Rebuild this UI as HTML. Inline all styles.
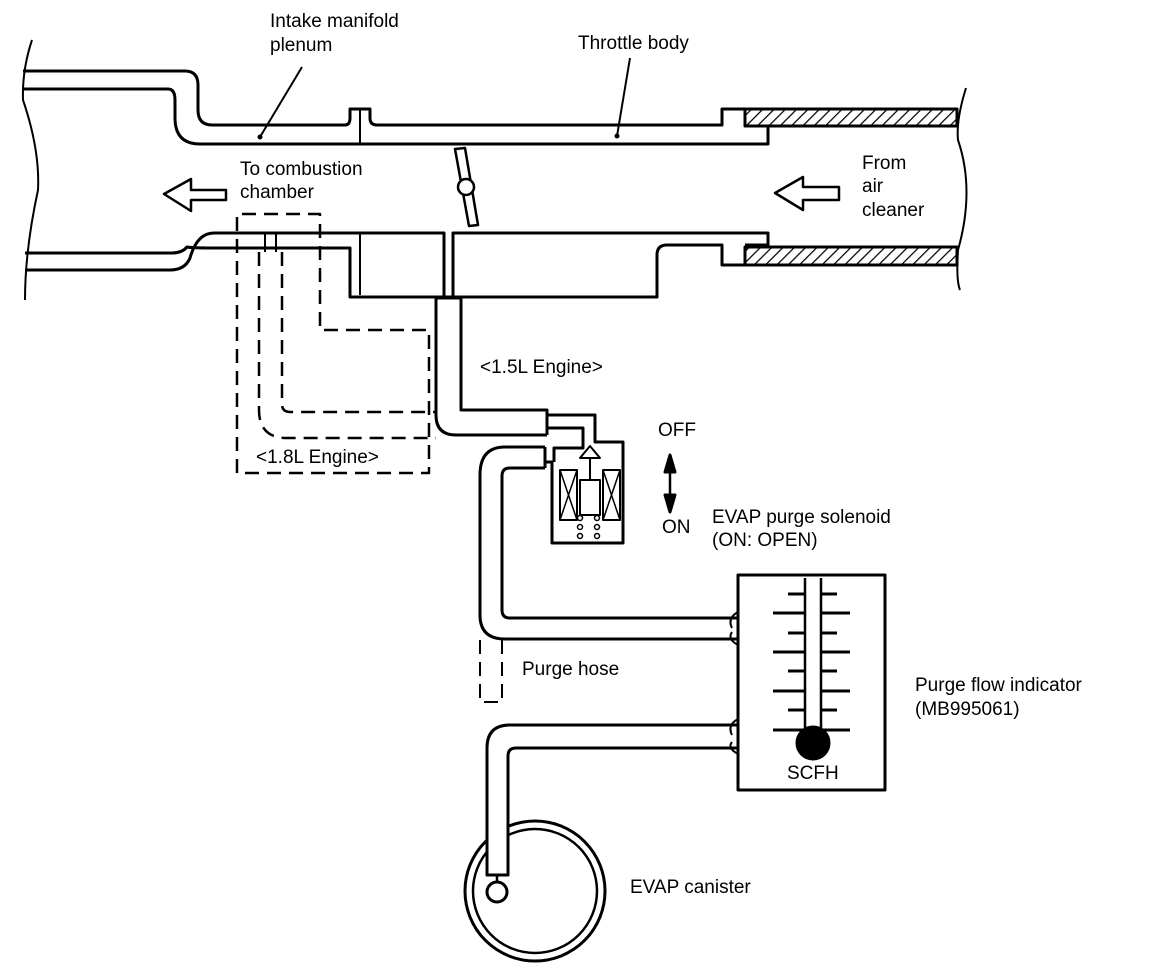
<!DOCTYPE html>
<html><head><meta charset="utf-8"><style>
body{margin:0;background:#fff}
svg{display:block}
text{font-family:"Liberation Sans",sans-serif;font-size:19px;fill:#000}
</style></head><body>
<svg width="1152" height="980" viewBox="0 0 1152 980" xmlns="http://www.w3.org/2000/svg">
<defs>
<pattern id="h" width="8" height="8" patternUnits="userSpaceOnUse" patternTransform="rotate(45)">
<line x1="0" y1="0" x2="0" y2="8" stroke="#000" stroke-width="2.5"/>
</pattern>
</defs>
<g fill="none" stroke="#000" stroke-width="3" stroke-linejoin="round">
<path d="M32 40 Q22 70 23 100 Q40 150 38 190 Q25 250 25 300" stroke-width="2"/>
<path d="M966 88 Q956 120 958 140 Q975 190 958 250 Q956 280 960 290" stroke-width="2"/>
<path d="M23 71 L185 71 Q198 71 198 85 L198 110 Q198 125 212 125 L345 125 Q350 125 350 118 L350 109 L370 109 L370 118 Q370 125 377 125 L722 125 L722 109 L745 109"/>
<path d="M23 89 L168 89 Q175 89 175 100 L175 118 Q175 144 200 144 L768 144 L768 126 L745 126"/>
<line x1="360" y1="109" x2="360" y2="144" stroke-width="2"/>
<path d="M25 270 L170 270 Q185 270 190 258 Q197 233 214 233 L444 233 L444 297"/>
<path d="M453 297 L453 233 L768 233 L768 245 L745 245"/>
<path d="M25 253 L172 253 Q182 253 187 247 Q192 248 214 248 L350 248 L350 297 L657 297 L657 255 Q657 245 667 245 L722 245 L722 265 L745 265"/>
<line x1="360" y1="233" x2="360" y2="295" stroke-width="2"/>
<rect x="745" y="109" width="212" height="17" fill="url(#h)"/>
<rect x="745" y="247" width="212" height="18" fill="url(#h)"/>
<polygon points="455,149 465,148 478,225 469,226" fill="#fff" stroke-width="2.5"/>
<circle cx="466" cy="187" r="8" fill="#fff" stroke-width="2.5"/>
<polygon points="164,194 191,179 191,190 226,190 226,200 191,200 191,211" stroke-width="2.5"/>
<polygon points="775,193 803,177 803,187 839,187 839,200 803,200 803,210" stroke-width="2.5"/>
<path d="M436 298 L461 298 M436 298 L436 415 Q436 435 456 435 L547 435 M461 298 L461 410 L547 410 L547 435"/>
<path d="M547 415 L595 415 L595 442 L623 442 L623 543 L552 543 L552 462 L545 462 M547 428 L583 428 L583 448 L554 448 L554 462"/>
<rect x="560" y="470" width="17" height="50" stroke-width="2"/>
<path d="M560 470 L577 520 M577 470 L560 520" stroke-width="1.5"/>
<rect x="603" y="470" width="17" height="50" stroke-width="2"/>
<path d="M603 470 L620 520 M620 470 L603 520" stroke-width="1.5"/>
<rect x="580" y="480" width="20" height="35" stroke-width="2"/>
<line x1="590" y1="480" x2="590" y2="458" stroke-width="2"/>
<polygon points="580,458 590,446 600,458" stroke-width="2"/>
<g stroke-width="1.5"><circle cx="580" cy="518" r="2.5"/><circle cx="597" cy="518" r="2.5"/><circle cx="580" cy="527" r="2.5"/><circle cx="597" cy="527" r="2.5"/><circle cx="580" cy="536" r="2.5"/><circle cx="597" cy="536" r="2.5"/></g>
<path d="M545 447 L505 447 Q480 447 480 475 L480 615 Q480 639 505 639 L738 639"/>
<path d="M545 468 L510 468 Q502 468 502 476 L502 610 Q502 618 510 618 L738 618"/>
<path d="M545 447 L545 468" />
<path d="M738 612 Q727 618 732 628 M738 645 Q727 639 732 632" stroke-width="2"/>
<path d="M480 640 L480 702 L502 702 L502 640" stroke-dasharray="14 8" stroke-width="2"/>
<!-- canister -->
<circle cx="535" cy="891" r="70"/>
<circle cx="535" cy="891" r="62" stroke-width="2.5"/>
<path d="M738 725 L510 725 Q487 725 487 748 L487 875 L508 875 L508 756 Q508 748 516 748 L738 748" fill="#fff"/>
<path d="M738 719 Q727 725 732 735 M738 754 Q727 748 732 742" stroke-width="2"/>
<circle cx="497" cy="892" r="10" fill="#fff"/>
<line x1="497" y1="875" x2="497" y2="882" stroke-width="2.5"/>
<rect x="738" y="575" width="147" height="215"/>
<path d="M805 578 L805 732 M821 578 L821 732" stroke-width="2.5"/>
<g stroke-width="3">
<path d="M788 594 L805 594 M821 594 L837 594"/>
<path d="M773 613 L805 613 M821 613 L850 613"/>
<path d="M788 633 L805 633 M821 633 L837 633"/>
<path d="M773 652 L805 652 M821 652 L850 652"/>
<path d="M788 671 L805 671 M821 671 L837 671"/>
<path d="M773 691 L805 691 M821 691 L850 691"/>
<path d="M788 710 L805 710 M821 710 L837 710"/>
<path d="M773 730 L850 730"/>
</g>
<circle cx="813" cy="743" r="16" fill="#000"/>
<g stroke-dasharray="14 8" stroke-width="2.5">
<path d="M237 473 L237 214 L320 214 L320 330 L429 330 L429 473 Z"/>
<path d="M259 252 L259 410 Q259 438 287 438 L436 438"/>
<path d="M282 252 L282 404 Q282 412 290 412 L436 412"/>
</g>
<path d="M265 233 L265 252 M276 233 L276 252" stroke-width="2"/>
<line x1="670" y1="468" x2="670" y2="500" stroke-width="2.5"/>
<polygon points="670,455 665,472 675,472" fill="#000"/>
<polygon points="670,512 665,495 675,495" fill="#000"/>
<line x1="302" y1="67" x2="260" y2="137" stroke-width="2"/>
<line x1="630" y1="58" x2="617" y2="136" stroke-width="2"/>
</g>
<circle cx="260" cy="137" r="2.5" fill="#000"/>
<circle cx="617" cy="136" r="2.5" fill="#000"/>
<text x="270" y="27">Intake manifold</text>
<text x="270" y="51">plenum</text>
<text x="578" y="49">Throttle body</text>
<text x="240" y="175">To combustion</text>
<text x="240" y="198">chamber</text>
<text x="862" y="169">From</text>
<text x="862" y="192">air</text>
<text x="862" y="216">cleaner</text>
<text x="480" y="373">&lt;1.5L Engine&gt;</text>
<text x="256" y="463">&lt;1.8L Engine&gt;</text>
<text x="658" y="436">OFF</text>
<text x="662" y="533">ON</text>
<text x="712" y="523">EVAP purge solenoid</text>
<text x="712" y="546">(ON: OPEN)</text>
<text x="522" y="675">Purge hose</text>
<text x="915" y="691">Purge flow indicator</text>
<text x="915" y="715">(MB995061)</text>
<text x="787" y="779">SCFH</text>
<text x="630" y="893">EVAP canister</text>
</svg>
</body></html>
